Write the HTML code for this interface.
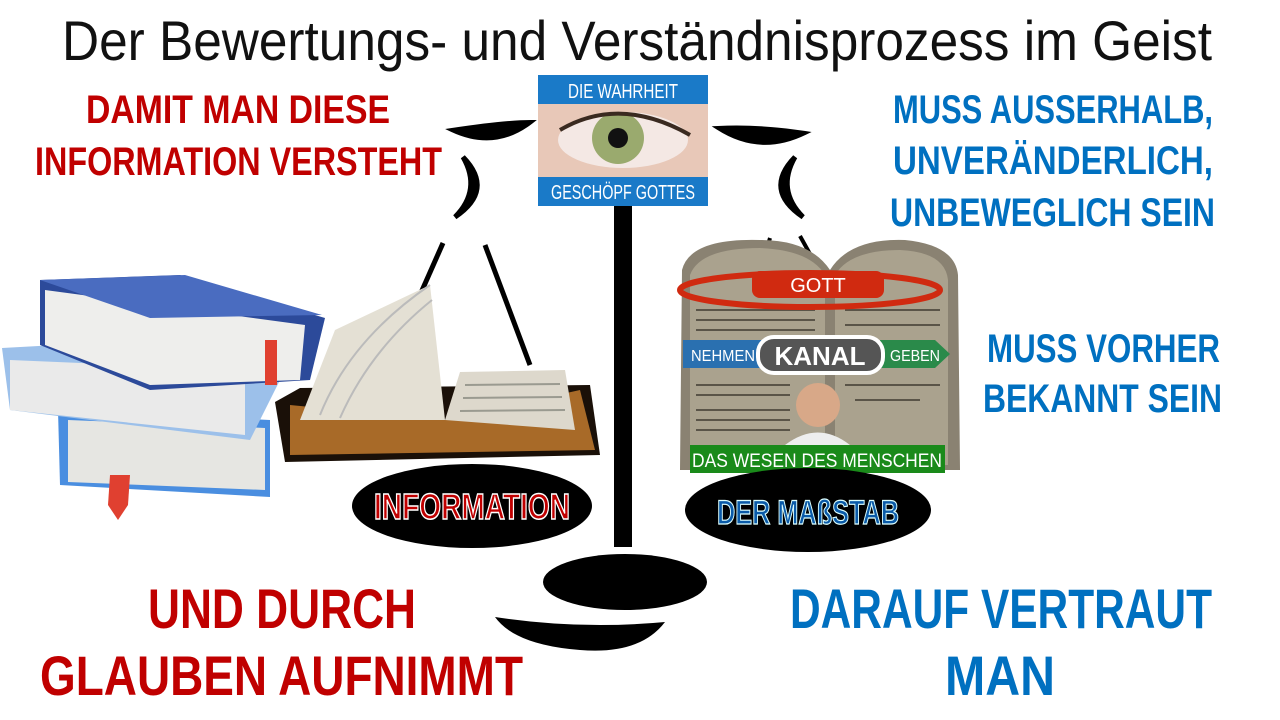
<!DOCTYPE html>
<html><head><meta charset="utf-8"><style>
html,body{margin:0;padding:0;background:#fff;}
svg{display:block;}
text{font-family:"Liberation Sans Narrow","Liberation Sans",sans-serif;}
</style></head><body>
<svg width="1280" height="720" viewBox="0 0 1280 720" xmlns="http://www.w3.org/2000/svg">
<text x="62" y="60" font-size="56" fill="#111" textLength="1150" lengthAdjust="spacingAndGlyphs">Der Bewertungs- und Verständnisprozess im Geist</text>

<g font-weight="bold" fill="#c00000" font-size="40">
<text x="86" y="123" textLength="304" lengthAdjust="spacingAndGlyphs">DAMIT MAN DIESE</text>
<text x="35" y="175" textLength="407" lengthAdjust="spacingAndGlyphs">INFORMATION VERSTEHT</text>
</g>
<g font-weight="bold" fill="#0070c0" font-size="40">
<text x="893" y="123" textLength="320" lengthAdjust="spacingAndGlyphs">MUSS AUSSERHALB,</text>
<text x="893" y="174" textLength="320" lengthAdjust="spacingAndGlyphs">UNVERÄNDERLICH,</text>
<text x="890" y="226" textLength="325" lengthAdjust="spacingAndGlyphs">UNBEWEGLICH SEIN</text>
<text x="987" y="362" textLength="233" lengthAdjust="spacingAndGlyphs">MUSS VORHER</text>
<text x="983" y="412" textLength="239" lengthAdjust="spacingAndGlyphs">BEKANNT SEIN</text>
</g>
<g font-weight="bold" font-size="56">
<text x="148" y="628" fill="#c00000" textLength="268" lengthAdjust="spacingAndGlyphs">UND DURCH</text>
<text x="40" y="695" fill="#c00000" textLength="483" lengthAdjust="spacingAndGlyphs">GLAUBEN AUFNIMMT</text>
<text x="790" y="628" fill="#0070c0" textLength="422" lengthAdjust="spacingAndGlyphs">DARAUF VERTRAUT</text>
<text x="945" y="695" fill="#0070c0" textLength="110" lengthAdjust="spacingAndGlyphs">MAN</text>
</g>

<!-- Scale arms -->
<path d="M452,130 Q495,150 531,122 Q505,122 452,130Z" fill="#000" stroke="#000" stroke-width="4"/>
<path d="M718,128 Q760,155 805,133 Q760,126 718,128Z" fill="#000" stroke="#000" stroke-width="4"/>
<path d="M463,157 Q495,190 455,217 Q482,190 463,157Z" fill="#000" stroke="#000" stroke-width="5"/>
<path d="M795,157 Q763,190 803,217 Q776,190 795,157Z" fill="#000" stroke="#000" stroke-width="5"/>
<line x1="443" y1="243" x2="420" y2="295" stroke="#000" stroke-width="5"/>
<line x1="485" y1="245" x2="530" y2="365" stroke="#000" stroke-width="5"/>
<line x1="770" y1="238" x2="765" y2="255" stroke="#000" stroke-width="4"/>
<line x1="800" y1="236" x2="830" y2="290" stroke="#000" stroke-width="4"/>
<rect x="614" y="205" width="18" height="342" fill="#000"/>
<ellipse cx="625" cy="582" rx="82" ry="28" fill="#000"/>
<path d="M495,617 Q580,630 665,622 Q640,655 580,650 Q515,645 495,617Z" fill="#000"/>

<!-- Eye box -->
<rect x="538" y="75" width="170" height="131" fill="#e8c8b8"/>
<ellipse cx="623" cy="140" rx="65" ry="28" fill="#f4e8e4"/>
<circle cx="618" cy="138" r="26" fill="#9aaa6e"/>
<circle cx="618" cy="138" r="10" fill="#111"/>
<path d="M560,130 Q620,95 690,135" stroke="#3a2a20" stroke-width="4" fill="none"/>
<rect x="538" y="75" width="170" height="29" fill="#1a7ac8"/>
<rect x="538" y="177" width="170" height="29" fill="#1a7ac8"/>
<text x="623" y="98" font-size="20" fill="#fff" text-anchor="middle" textLength="110" lengthAdjust="spacingAndGlyphs">DIE WAHRHEIT</text>
<text x="623" y="199" font-size="20" fill="#fff" text-anchor="middle" textLength="144" lengthAdjust="spacingAndGlyphs">GESCHÖPF GOTTES</text>

<!-- Book stack -->
<path d="M58,410 L270,420 L270,497 L60,485Z" fill="#4a8ee0"/>
<path d="M68,420 L265,428 L265,490 L68,482Z" fill="#e6e6e2"/>
<path d="M110,475 L130,475 L128,505 L118,520 L108,505Z" fill="#e04030"/>
<path d="M2,348 L240,335 L290,360 L250,440 L10,410Z" fill="#9cc0ea"/>
<path d="M10,360 L245,370 L245,435 L10,410Z" fill="#eaeaea"/>
<path d="M40,280 L180,275 L325,318 L310,380 L150,390 L40,345Z" fill="#2c4a9a"/>
<path d="M45,290 L305,325 L300,380 L150,385 L45,345Z" fill="#eeeeec"/>
<path d="M40,280 L185,275 L322,315 L150,318Z" fill="#4a6cc0"/>
<rect x="265" y="340" width="12" height="45" fill="#e04030"/>

<!-- Bible -->
<path d="M275,402 L300,388 L590,385 L600,455 L285,462Z" fill="#1a1008"/>
<path d="M290,405 L445,420 L580,390 L595,450 L290,455Z" fill="#a86a28"/>
<path d="M300,420 L335,330 L430,285 L445,420 Z" fill="#e4e0d4"/>
<path d="M320,415 Q350,340 430,285" stroke="#bbb" fill="none" stroke-width="2"/>
<path d="M340,418 Q370,350 432,300" stroke="#bbb" fill="none" stroke-width="2"/>
<path d="M445,420 L460,372 L565,370 L575,430 Z" fill="#ddd8cc"/>
<g stroke="#9a9a90" stroke-width="2">
<line x1="465" y1="385" x2="560" y2="384"/><line x1="463" y1="398" x2="562" y2="397"/><line x1="460" y1="411" x2="565" y2="410"/>
</g>

<!-- Tablets -->
<path d="M680,470 L682,270 Q690,238 760,240 Q810,240 830,270 Q850,238 905,240 Q955,245 958,275 L960,470Z" fill="#8a8272"/>
<path d="M690,465 L690,275 Q700,248 760,248 Q810,250 825,275 L825,465Z" fill="#aaa28e"/>
<path d="M835,465 L835,275 Q850,250 900,250 Q945,252 948,280 L948,465Z" fill="#aaa28e"/>
<g stroke="#5a5448" stroke-width="2">
<line x1="696" y1="310" x2="815" y2="310"/><line x1="696" y1="320" x2="815" y2="320"/><line x1="696" y1="330" x2="815" y2="330"/>
<line x1="696" y1="385" x2="790" y2="385"/><line x1="696" y1="395" x2="790" y2="395"/><line x1="696" y1="410" x2="790" y2="410"/><line x1="696" y1="420" x2="790" y2="420"/><line x1="696" y1="430" x2="790" y2="430"/>
<line x1="845" y1="310" x2="940" y2="310"/><line x1="845" y1="325" x2="940" y2="325"/><line x1="845" y1="385" x2="940" y2="385"/><line x1="855" y1="400" x2="920" y2="400"/>
</g>
<ellipse cx="810" cy="290" rx="130" ry="17" fill="none" stroke="#d02a10" stroke-width="6"/>
<rect x="752" y="271" width="132" height="27" rx="8" fill="#d02a10"/>
<text x="818" y="292" font-size="20" fill="#fff" text-anchor="middle">GOTT</text>
<path d="M683,340 L765,340 L775,354 L765,368 L683,368Z" fill="#2a70b0"/>
<path d="M880,340 L935,340 L950,354 L935,368 L880,368Z" fill="#2a8a4a"/>
<rect x="758" y="337" width="125" height="36" rx="16" fill="#555" stroke="#fff" stroke-width="4"/>
<text x="691" y="361" font-size="16" fill="#fff" textLength="64" lengthAdjust="spacingAndGlyphs">NEHMEN</text>
<text x="820" y="365" font-size="26" font-weight="bold" fill="#fff" text-anchor="middle">KANAL</text>
<text x="890" y="361" font-size="16" fill="#fff" textLength="50" lengthAdjust="spacingAndGlyphs">GEBEN</text>
<circle cx="818" cy="405" r="22" fill="#d8a888"/>
<path d="M785,445 Q818,420 850,445Z" fill="#eee"/>
<rect x="690" y="445" width="255" height="28" fill="#1a8a1a"/>
<text x="817" y="467" font-size="19" fill="#fff" text-anchor="middle" textLength="250" lengthAdjust="spacingAndGlyphs">DAS WESEN DES MENSCHEN</text>

<!-- Ellipses -->
<ellipse cx="472" cy="506" rx="120" ry="42" fill="#000"/>
<text x="472" y="519" font-size="36" font-weight="bold" fill="#c00000" stroke="#fff" stroke-width="1.5" text-anchor="middle" textLength="196" lengthAdjust="spacingAndGlyphs">INFORMATION</text>
<ellipse cx="808" cy="510" rx="123" ry="42" fill="#000"/>
<text x="808" y="524" font-size="34" font-weight="bold" fill="#0a5aa8" stroke="#dff" stroke-width="1.2" text-anchor="middle" textLength="182" lengthAdjust="spacingAndGlyphs">DER MAßSTAB</text>
</svg>
</body></html>
